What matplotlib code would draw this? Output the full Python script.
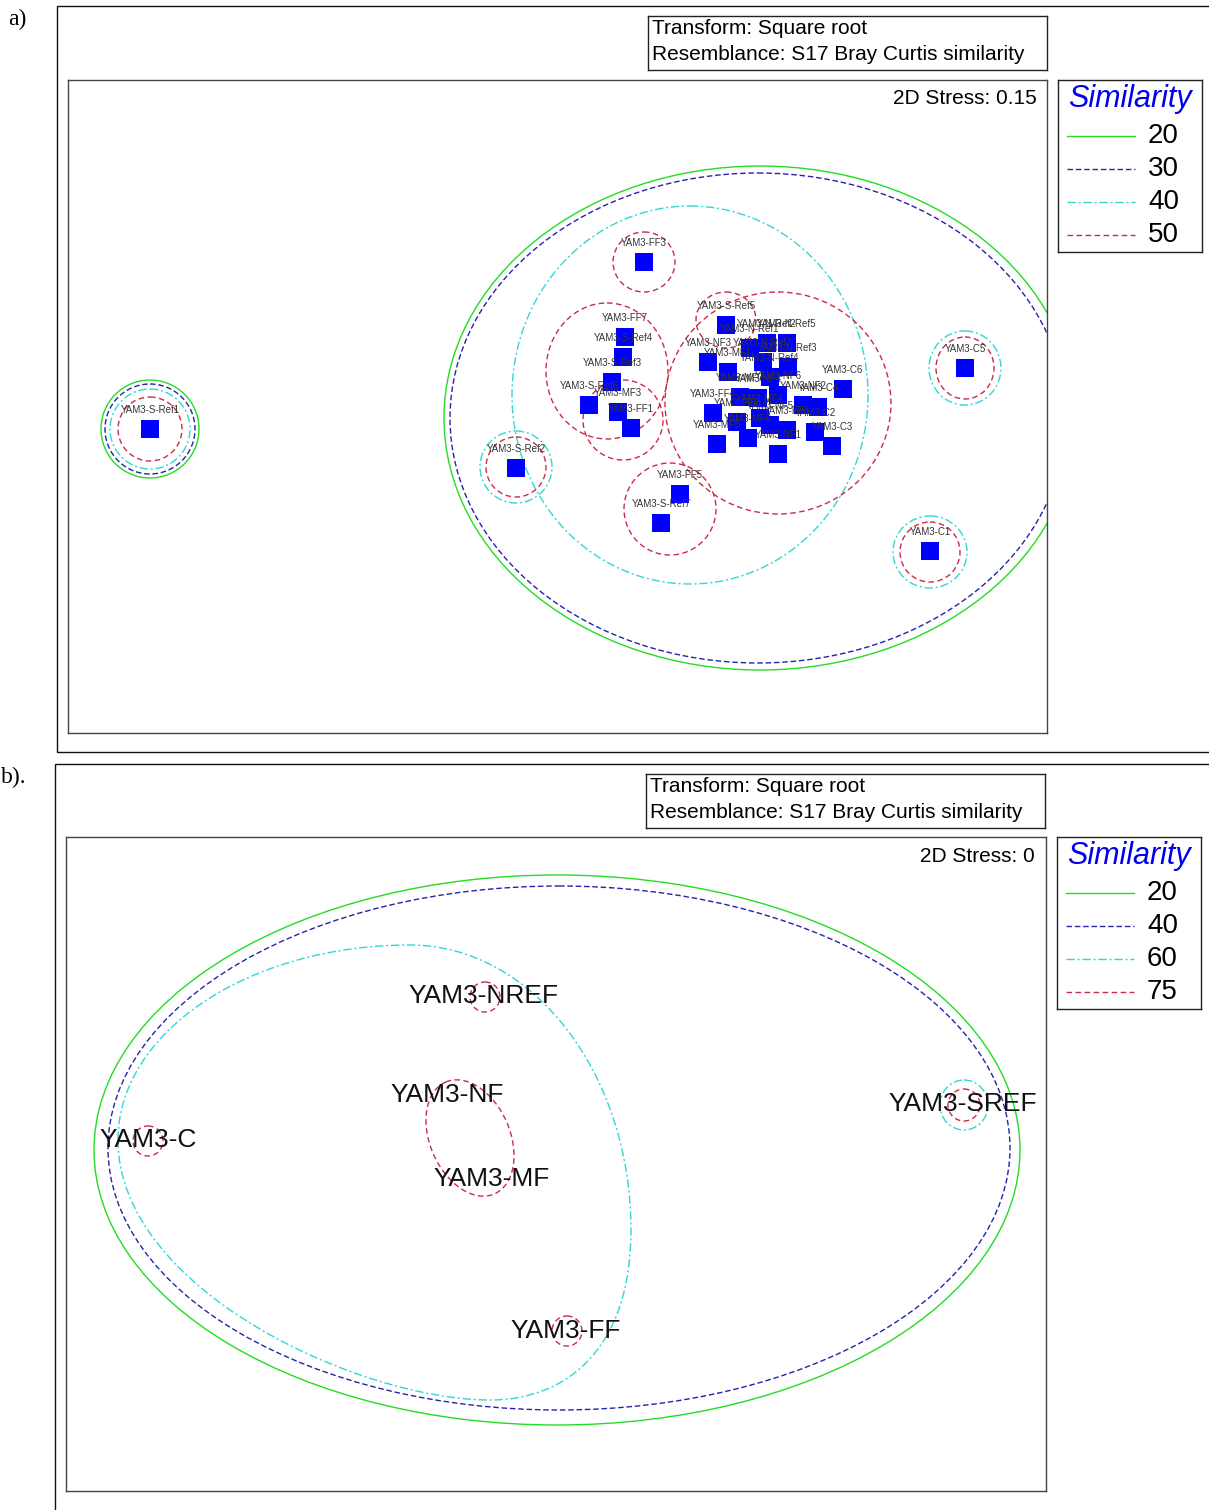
import matplotlib.pyplot as plt
from matplotlib.patches import Ellipse, PathPatch, Rectangle
from matplotlib.path import Path

plt.rcParams.update(
    {
        "font.family": ["Liberation Sans", "DejaVu Sans"],
        "lines.scale_dashes": False,
    }
)

W, H = 1209, 1510

# %% Panel a: nMDS of the individual samples

a_names = [
    "YAM3-S-Ref1", "YAM3-S-Ref2", "YAM3-FF3", "YAM3-FF7", "YAM3-S-Ref4",
    "YAM3-S-Ref3", "YAM3-S-Ref6", "YAM3-MF3", "YAM3-FF1", "YAM3-FF5",
    "YAM3-S-Ref7", "YAM3-C5", "YAM3-C1", "YAM3-S-Ref5", "YAM3-N-Ref2",
    "YAM3-N-Ref5", "YAM3-N-Ref1", "YAM3-NF3", "YAM3-MF1", "YAM3-N-Ref7",
    "YAM3-N-Ref3", "YAM3-N-Ref4", "YAM3-C6", "YAM3-MF7", "YAM3-NF4",
    "YAM3-NF6", "YAM3-NF2", "YAM3-C4", "YAM3-FF4", "YAM3-FF2",
    "YAM3-MF4", "YAM3-FF6", "YAM3-C2", "YAM3-MF6", "YAM3-MF5",
    "YAM3-NF1", "YAM3-C3", "YAM3-NF5",
]
a_x = [
    150, 516, 644, 625, 623, 612, 589, 618, 631, 680,
    661, 965, 930, 726, 767, 787, 750, 708, 728, 763,
    788, 770, 843, 740, 758, 778, 803, 818, 713, 737,
    760, 787, 815, 748, 717, 778, 832, 770,
]
a_y = [
    429, 468, 262, 337, 357, 382, 405, 412, 428, 494,
    523, 368, 551, 325, 343, 343, 348, 362, 372, 362,
    367, 377, 389, 397, 398, 395, 405, 407, 413, 422,
    418, 430, 432, 438, 444, 454, 446, 425,
]
a_levels = [20, 30, 40, 50]
a_stress = "0.15"

# similarity contours (level, centre, width, height)
a_ct_level = [20, 20, 30, 30, 40, 40, 40, 40, 40,
              50, 50, 50, 50, 50, 50, 50, 50, 50, 50]
a_ct_x = [150, 760, 150, 758, 150, 516, 965, 930, 690,
          150, 516, 965, 930, 644, 607, 623, 670, 726, 778]
a_ct_y = [429, 418, 429, 418, 429, 467, 368, 552, 395,
          429, 467, 368, 552, 262, 371, 420, 509, 320, 403]
a_ct_w = [98, 632, 90, 616, 80, 72, 72, 74, 356,
          64, 60, 58, 60, 62, 122, 80, 92, 60, 226]
a_ct_h = [98, 504, 90, 490, 80, 72, 74, 72, 378,
          64, 60, 62, 60, 60, 136, 80, 92, 56, 222]

# %% Panel b: nMDS of the group centroids

b_names = ["YAM3-C", "YAM3-FF", "YAM3-MF", "YAM3-NF", "YAM3-NREF", "YAM3-SREF"]
b_x = [148, 566, 492, 447, 483, 963]
b_y = [1140, 1331, 1179, 1095, 996, 1104]
b_levels = [20, 40, 60, 75]
b_stress = "0"

b_ct_level = [20, 40, 60, 75, 75, 75, 75, 75]
b_ct_x = [557, 559, 964, 485, 148, 964, 567, 470]
b_ct_y = [1150, 1148, 1105, 997, 1141, 1105, 1331, 1138]
b_ct_w = [926, 902, 48, 30, 30, 32, 30, 80]
b_ct_h = [550, 524, 50, 30, 30, 32, 30, 122]
b_ct_angle = [0, 0, 0, 0, 0, 0, 0, -23.5]

# 60% contour round C/NREF/NF/MF/FF, closed cubic Bezier (node, ctrl, ctrl, node...)
b_hull_x = [118, 118, 249, 410, 532, 631, 631, 631, 570, 490, 360, 118, 118]
b_hull_y = [1140, 1032, 945, 945, 945, 1073, 1230, 1345, 1400, 1400, 1400, 1290, 1140]

LEVEL_STYLES = [
    dict(color="#22dd22", ls="-"),
    dict(color="#2424a8", ls=(0, (4, 2))),
    dict(color="#33d6d6", ls=(0, (6, 2, 1.5, 2))),
    dict(color="#cc2a48", ls=(0, (4, 2.5))),
]


def box_axes(fig, x0, y0, x1, y1, edge="#444444"):
    ax = fig.add_axes([x0 / W, 1 - y1 / H, (x1 - x0) / W, (y1 - y0) / H])
    ax.set_xlim(x0, x1)
    ax.set_ylim(y1, y0)
    ax.set_xticks([])
    ax.set_yticks([])
    for s in ax.spines.values():
        s.set_color(edge)
        s.set_linewidth(1.0)
    return ax


def info_box(fig, x0, y0):
    ax = box_axes(fig, x0, y0, x0 + 399, y0 + 54, edge="#222222")
    ax.text(x0 + 4, y0 + 13, "Transform: Square root", fontsize=15, va="center")
    ax.text(x0 + 4, y0 + 39, "Resemblance: S17 Bray Curtis similarity",
            fontsize=15, va="center")


def similarity_legend(fig, x0, y0, levels):
    ax = box_axes(fig, x0, y0, x0 + 144, y0 + 172, edge="#222222")
    ax.text(x0 + 72, y0 + 19, "Similarity", color="#0000ee", style="italic",
            fontsize=22, ha="center", va="center")
    for i, lev in enumerate(levels):
        y = y0 + 56 + 33 * i
        ax.plot([x0 + 9, x0 + 77], [y, y], lw=1.0, **LEVEL_STYLES[i])
        ax.text(x0 + 90, y, str(lev), fontsize=20, ha="left", va="center")


def contours(ax, levels, lev, xs, ys, ws, hs, angles=None):
    if angles is None:
        angles = [0] * len(lev)
    for l, cx, cy, w, h, a in zip(lev, xs, ys, ws, hs, angles):
        st = LEVEL_STYLES[levels.index(l)]
        ax.add_patch(Ellipse((cx, cy), w, h, angle=a, fill=False,
                             edgecolor=st["color"], linestyle=st["ls"],
                             lw=1.0, zorder=2))


def frame(fig, x0, y0, y1):
    fig.add_artist(Rectangle((x0 / W, 1 - y1 / H), (W + 10 - x0) / W, (y1 - y0) / H,
                             transform=fig.transFigure, fill=False,
                             edgecolor="#111111", lw=1.0))


fig = plt.figure(figsize=(W / 100, H / 100), dpi=100)

# %% a)

frame(fig, 57, 6, 752)
fig.text(8 / W, 1 - 19 / H, "a)", family="Liberation Serif", fontsize=17, va="center")
info_box(fig, 648, 16)
similarity_legend(fig, 1058, 80, a_levels)

ax = box_axes(fig, 68, 80, 1047, 733)
contours(ax, a_levels, a_ct_level, a_ct_x, a_ct_y, a_ct_w, a_ct_h)
ax.plot(a_x, a_y, "s", ms=12.5, color="#0000ff", mew=0, zorder=3)
for n, x, y in zip(a_names, a_x, a_y):
    ax.annotate(n, (x, y), xytext=(0, 13.5), textcoords="offset points",
                ha="center", va="center", fontsize=7, color="#333333", zorder=4)
ax.text(1037, 98, "2D Stress: " + a_stress, ha="right", va="center", fontsize=15)

# %% b)

frame(fig, 55, 764, 1520)
fig.text(1 / W, 1 - 777 / H, "b).", family="Liberation Serif", fontsize=17, va="center")
info_box(fig, 646, 774)
similarity_legend(fig, 1057, 837, b_levels)

ax = box_axes(fig, 66, 837, 1046, 1491)
contours(ax, b_levels, b_ct_level, b_ct_x, b_ct_y, b_ct_w, b_ct_h, b_ct_angle)
codes = [Path.MOVETO] + [Path.CURVE4] * (len(b_hull_x) - 1)
hull = Path(list(zip(b_hull_x, b_hull_y)), codes)
st = LEVEL_STYLES[b_levels.index(60)]
ax.add_patch(PathPatch(hull, fill=False, edgecolor=st["color"],
                       linestyle=st["ls"], lw=1.0, zorder=2))
for n, x, y in zip(b_names, b_x, b_y):
    ax.text(x, y, n, ha="center", va="center", fontsize=19, color="#111111", zorder=4)
ax.text(1035, 856, "2D Stress: " + b_stress, ha="right", va="center", fontsize=15)

fig.savefig("out.png", dpi=100)
